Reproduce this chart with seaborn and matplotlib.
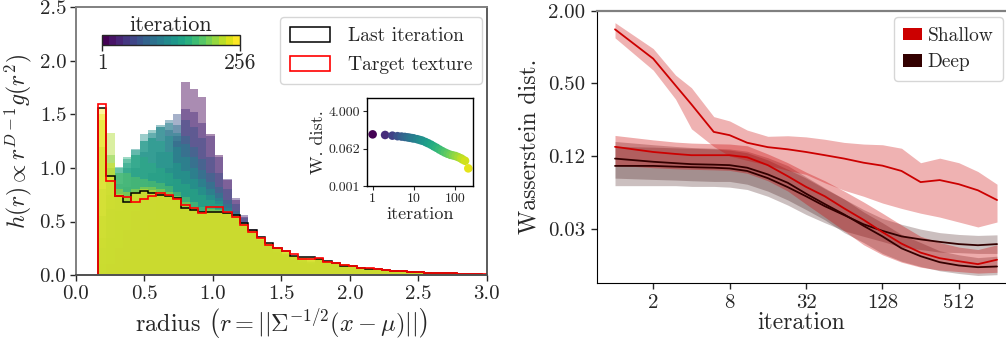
import numpy as np
import pandas as pd
import matplotlib
matplotlib.use("Agg")
import matplotlib.pyplot as plt
import seaborn as sns
from matplotlib.colors import LogNorm
from matplotlib.cm import ScalarMappable
from matplotlib.patches import Patch
from matplotlib.ticker import FixedLocator, FixedFormatter, NullLocator

# ---------------- left panel: radial histograms ----------------
bin_start = 0.16
bin_width = 0.061
n_bins = 47

hist_iterations = [1, 2, 4, 8, 12, 16, 24, 32, 64, 128, 192, 256]

# heights of the first 26 bins for the intermediate iterations
head_it1 = [0.0, 0.02, 0.05, 0.10, 0.17, 0.27, 0.40, 0.58, 0.85, 1.25, 1.80, 1.74, 1.66,
            1.32, 1.12, 0.89, 0.70, 0.544, 0.42, 0.31, 0.25, 0.20, 0.16, 0.13, 0.11, 0.09]
head_it2 = [0.0, 0.03, 0.08, 0.15, 0.24, 0.36, 0.52, 0.72, 1.0, 1.30, 1.55, 1.52, 1.42,
            1.30, 1.10, 0.90, 0.72, 0.56, 0.43, 0.33, 0.26, 0.21, 0.17, 0.14, 0.11, 0.09]
head_it4 = [0.02, 0.10, 0.25, 0.42, 0.60, 0.78, 0.95, 1.15, 1.35, 1.50, 1.45, 1.38, 1.28,
            1.10, 0.95, 0.80, 0.66, 0.53, 0.42, 0.33, 0.27, 0.22, 0.18, 0.15, 0.12, 0.10]
head_it8 = [0.10, 0.35, 0.60, 0.82, 1.0, 1.15, 1.28, 1.38, 1.45, 1.40, 1.30, 1.20, 1.08,
            0.95, 0.82, 0.70, 0.60, 0.50, 0.41, 0.33, 0.27, 0.23, 0.19, 0.16, 0.13, 0.11]
head_it12 = [0.25, 0.62, 0.85, 1.0, 1.12, 1.25, 1.33, 1.40, 1.42, 1.33, 1.22, 1.10, 0.98,
             0.87, 0.77, 0.66, 0.58, 0.49, 0.41, 0.33, 0.28, 0.23, 0.19, 0.16, 0.13, 0.11]
head_it16 = [0.35, 0.75, 0.95, 1.05, 1.18, 1.32, 1.35, 1.38, 1.30, 1.20, 1.10, 1.00, 0.90,
             0.80, 0.72, 0.63, 0.56, 0.48, 0.40, 0.33, 0.28, 0.24, 0.20, 0.17, 0.14, 0.12]
head_it24 = [0.55, 0.88, 1.0, 1.08, 1.17, 1.25, 1.28, 1.25, 1.15, 1.05, 0.97, 0.90, 0.82,
             0.75, 0.69, 0.61, 0.55, 0.47, 0.40, 0.33, 0.28, 0.24, 0.20, 0.17, 0.14, 0.12]
head_it32 = [0.80, 1.0, 1.01, 1.10, 1.12, 1.10, 1.05, 1.00, 0.95, 0.90, 0.85, 0.80, 0.75,
             0.70, 0.66, 0.60, 0.55, 0.47, 0.40, 0.34, 0.29, 0.25, 0.21, 0.18, 0.15, 0.13]
head_it64 = [1.20, 1.12, 0.95, 0.95, 0.92, 0.90, 0.88, 0.86, 0.83, 0.78, 0.73, 0.68, 0.64,
             0.64, 0.62, 0.58, 0.54, 0.47, 0.41, 0.35, 0.29, 0.25, 0.22, 0.18, 0.15, 0.14]
head_it128 = [1.45, 1.33, 0.80, 0.78, 0.80, 0.82, 0.82, 0.80, 0.78, 0.74, 0.68, 0.64, 0.60,
              0.62, 0.61, 0.58, 0.55, 0.47, 0.41, 0.35, 0.29, 0.25, 0.22, 0.18, 0.16, 0.15]
head_it192 = [1.50, 1.05, 0.76, 0.72, 0.78, 0.80, 0.79, 0.77, 0.75, 0.72, 0.65, 0.62, 0.59,
              0.60, 0.60, 0.58, 0.55, 0.48, 0.41, 0.35, 0.29, 0.25, 0.22, 0.18, 0.16, 0.15]
# common tail (bins 26..46)
tail_common = [0.15, 0.13, 0.115, 0.10, 0.09, 0.075, 0.068, 0.06, 0.052, 0.045, 0.038,
               0.034, 0.03, 0.025, 0.022, 0.019, 0.016, 0.013, 0.01, 0.007, 0.005]

last_iteration = [1.555, 0.927, 0.737, 0.684, 0.768, 0.784, 0.768, 0.752, 0.737, 0.715,
                  0.622, 0.606, 0.59, 0.59, 0.59, 0.575, 0.56, 0.482, 0.42, 0.351, 0.295,
                  0.249, 0.227, 0.177, 0.171, 0.165, 0.146, 0.13, 0.109, 0.087, 0.087, 0.07,
                  0.06, 0.055, 0.047, 0.042, 0.034, 0.03, 0.028, 0.024, 0.02, 0.019, 0.015,
                  0.013, 0.01, 0.007, 0.005]
target_texture = [1.60, 0.88, 0.737, 0.731, 0.684, 0.706, 0.737, 0.768, 0.752, 0.706,
                  0.653, 0.622, 0.575, 0.637, 0.637, 0.59, 0.544, 0.466, 0.404, 0.342, 0.28,
                  0.249, 0.227, 0.196, 0.146, 0.146, 0.162, 0.118, 0.109, 0.093, 0.087, 0.068,
                  0.062, 0.053, 0.047, 0.040, 0.034, 0.031, 0.028, 0.022, 0.022, 0.019, 0.016,
                  0.012, 0.009, 0.006, 0.006]

# inset: Wasserstein distance per iteration
inset_iterations = [1, 2, 3, 4, 5, 6, 7, 8, 9, 10, 12, 14, 16, 19, 22, 26, 30, 35, 41, 48,
                    56, 65, 76, 88, 102, 118, 137, 150, 172, 206]
inset_wdist = [0.30, 0.28, 0.26, 0.245, 0.235, 0.225, 0.215, 0.205, 0.197, 0.19, 0.175,
               0.16, 0.148, 0.128, 0.112, 0.095, 0.08, 0.068, 0.056, 0.047, 0.040, 0.035,
               0.031, 0.029, 0.027, 0.024, 0.021, 0.0185, 0.016, 0.0069]
inset_yticks = [2.0 ** -10, 2.0 ** -4, 2.0 ** 2]
inset_yticklabels = ["0.001", "0.062", "4.000"]
inset_xticks = [1, 10, 100]
inset_xticklabels = ["1", "10", "100"]

# ---------------- right panel: W. distance vs iteration ----------------
iterations = [1, 2, 3, 4, 6, 8, 11, 16, 23, 32, 45, 64, 91, 128, 181, 256, 362, 512, 724, 1024]

shallow_a = [1.40, 0.80, 0.48, 0.335, 0.198, 0.186, 0.161, 0.148, 0.142, 0.135, 0.127,
             0.119, 0.110, 0.104, 0.094, 0.076, 0.079, 0.073, 0.065, 0.054]
shallow_a_lo = [1.19, 0.643, 0.37, 0.21, 0.15, 0.125, 0.115, 0.105, 0.095, 0.088, 0.075,
                0.065, 0.058, 0.051, 0.046, 0.042, 0.039, 0.0355, 0.0323, 0.0355]
shallow_a_hi = [1.59, 0.97, 0.585, 0.46, 0.265, 0.244, 0.205, 0.182, 0.184, 0.180, 0.172,
                0.162, 0.157, 0.155, 0.145, 0.11, 0.12, 0.11, 0.093, 0.073]

shallow_b = [0.149, 0.135, 0.13, 0.127, 0.127, 0.127, 0.122, 0.105, 0.085, 0.0694, 0.058,
             0.046, 0.037, 0.0293, 0.0235, 0.0198, 0.0178, 0.0168, 0.0159, 0.0173]
shallow_b_lo = [0.105, 0.100, 0.098, 0.097, 0.096, 0.095, 0.090, 0.078, 0.064, 0.050, 0.039,
                0.030, 0.023, 0.019, 0.0165, 0.0150, 0.0142, 0.0138, 0.0134, 0.0136]
shallow_b_hi = [0.185, 0.170, 0.163, 0.160, 0.158, 0.157, 0.152, 0.130, 0.110, 0.092, 0.078,
                0.064, 0.052, 0.042, 0.0335, 0.027, 0.024, 0.022, 0.021, 0.023]

deep_a = [0.1035, 0.1035, 0.102, 0.101, 0.100, 0.0986, 0.094, 0.082, 0.069, 0.058, 0.048,
          0.0405, 0.034, 0.030, 0.027, 0.0255, 0.0243, 0.0233, 0.0228, 0.0233]
deep_a_lo = [0.071, 0.071, 0.071, 0.070, 0.070, 0.069, 0.066, 0.058, 0.049, 0.041, 0.035,
             0.030, 0.027, 0.0245, 0.022, 0.021, 0.020, 0.0198, 0.0195, 0.0195]
deep_a_hi = [0.150, 0.148, 0.146, 0.145, 0.143, 0.140, 0.133, 0.116, 0.097, 0.082, 0.067,
             0.055, 0.045, 0.038, 0.034, 0.031, 0.029, 0.028, 0.0275, 0.0278]

deep_b = [0.119, 0.112, 0.109, 0.107, 0.106, 0.105, 0.100, 0.088, 0.075, 0.061, 0.050,
          0.041, 0.033, 0.027, 0.0215, 0.0185, 0.0165, 0.0155, 0.015, 0.0152]
deep_b_lo = [0.082, 0.080, 0.079, 0.078, 0.077, 0.077, 0.073, 0.064, 0.054, 0.045, 0.037,
             0.029, 0.024, 0.0195, 0.0168, 0.0152, 0.0140, 0.0133, 0.0128, 0.0130]
deep_b_hi = [0.165, 0.155, 0.150, 0.147, 0.145, 0.143, 0.137, 0.121, 0.104, 0.084, 0.068,
             0.055, 0.043, 0.035, 0.028, 0.024, 0.0205, 0.019, 0.018, 0.0185]

w_yticks = [2.0, 0.5, 0.125, 0.03125]
w_yticklabels = ["2.00", "0.50", "0.12", "0.03"]
w_xticks = [2, 8, 32, 128, 512]
w_xticklabels = ["2", "8", "32", "128", "512"]

shallow_color = "#cc0000"
deep_color = "#330000"

# ---------------- style ----------------
sns.set_style("ticks")
plt.rcParams.update({
    "font.family": "cmr10",
    "mathtext.fontset": "cm",
    "axes.formatter.use_mathtext": True,
    "axes.unicode_minus": False,
    "xtick.direction": "out",
    "ytick.direction": "out",
})

fig = plt.figure(figsize=(10.06, 3.43), dpi=100)

# ---- histograms
ax_h = fig.add_axes([0.0755, 0.198, 0.4085, 0.781])
edges = list(bin_start + bin_width * np.arange(n_bins + 1))
centers = [0.5 * (a + b) for a, b in zip(edges[:-1], edges[1:])]
cmap = plt.get_cmap("viridis")
norm = LogNorm(1, 256)

heads = [head_it1, head_it2, head_it4, head_it8, head_it12, head_it16, head_it24,
         head_it32, head_it64, head_it128, head_it192]
layers = [h + tail_common for h in heads] + [last_iteration]
for it, heights in zip(hist_iterations, layers):
    df = pd.DataFrame({"r": centers, "h": heights})
    sns.histplot(data=df, x="r", weights="h", bins=edges, color=cmap(norm(it)),
                 alpha=0.45, linewidth=0, ax=ax_h)

# outlines drawn as closed steps down to zero, like a step histogram
ax_h.stairs(last_iteration, edges, baseline=0, color="black", linewidth=1.1)
ax_h.stairs(target_texture, edges, baseline=0, color="red", linewidth=1.2)

ax_h.set_xlim(0, 3.0)
ax_h.set_ylim(0, 2.5)
ax_h.set_xticks([0.0, 0.5, 1.0, 1.5, 2.0, 2.5, 3.0])
ax_h.set_yticks([0.0, 0.5, 1.0, 1.5, 2.0, 2.5])
ax_h.xaxis.set_major_formatter(FixedFormatter(["0.0", "0.5", "1.0", "1.5", "2.0", "2.5", "3.0"]))
ax_h.yaxis.set_major_formatter(FixedFormatter(["0.0", "0.5", "1.0", "1.5", "2.0", "2.5"]))
ax_h.tick_params(labelsize=15, length=4, width=1, pad=3)
ax_h.set_xlabel(r"radius $\left(r = ||\mathbf{\Sigma}^{-1/2}(x - \mathbf{\mu})||\right)$",
                fontsize=17.5, labelpad=2)
ax_h.set_ylabel(r"$h(r) \propto r^{D-1} g(r^2)$", fontsize=17, labelpad=4)
for side in ["left", "top"]:
    ax_h.spines[side].set_color("#808080")
    ax_h.spines[side].set_linewidth(1.4)
ax_h.spines["right"].set_color("#404040")
ax_h.spines["right"].set_linewidth(1.2)
ax_h.spines["bottom"].set_color("#505050")
ax_h.spines["bottom"].set_linewidth(1.4)

leg_handles = [Patch(facecolor="none", edgecolor="black", linewidth=1.1, label="Last iteration"),
               Patch(facecolor="none", edgecolor="red", linewidth=1.2, label="Target texture")]
ax_h.legend(handles=leg_handles, loc="upper right", bbox_to_anchor=(0.988, 0.962),
            borderaxespad=0, fontsize=14, handlelength=2.1, handleheight=0.8,
            handletextpad=0.9, labelspacing=0.55, borderpad=0.5)

# ---- colorbar
cax = fig.add_axes([0.1014, 0.8688, 0.1372, 0.0292])
sm = ScalarMappable(norm=norm, cmap=plt.get_cmap("viridis", 20))
cbar = fig.colorbar(sm, cax=cax, orientation="horizontal")
cbar.set_ticks([1, 256])
cbar.set_ticklabels(["1", "256"])
cax.xaxis.set_minor_locator(NullLocator())
cax.tick_params(labelsize=15.5, length=4, width=1, pad=2)
cbar.outline.set_linewidth(1)
cax.set_title("iteration", fontsize=16, pad=1)

# ---- inset
ax_in = fig.add_axes([0.3648, 0.4577, 0.1054, 0.2566])
ax_in.set_xscale("log")
ax_in.set_yscale("log", base=2)
df_in = pd.DataFrame({"it": inset_iterations, "w": inset_wdist})
sns.scatterplot(data=df_in, x="it", y="w", hue="it", palette="viridis",
                hue_norm=norm, s=38, linewidth=0, legend=False, ax=ax_in)
ax_in.set_xlim(0.73, 268)
ax_in.set_ylim(2.0 ** -10, 2.0 ** 4.08)
ax_in.xaxis.set_major_locator(FixedLocator(inset_xticks))
ax_in.xaxis.set_major_formatter(FixedFormatter(inset_xticklabels))
ax_in.yaxis.set_major_locator(FixedLocator(inset_yticks))
ax_in.yaxis.set_major_formatter(FixedFormatter(inset_yticklabels))
ax_in.xaxis.set_minor_locator(NullLocator())
ax_in.yaxis.set_minor_locator(NullLocator())
ax_in.tick_params(labelsize=10, length=3, width=0.8, pad=2)
ax_in.set_xlabel("iteration", fontsize=13, labelpad=1)
ax_in.set_ylabel("W. dist.", fontsize=13, labelpad=2)
for sp in ax_in.spines.values():
    sp.set_color("black")
    sp.set_linewidth(1)

# ---- right panel
ax_w = fig.add_axes([0.5931, 0.175, 0.4069, 0.794])
ax_w.set_xscale("log", base=2)
ax_w.set_yscale("log", base=2)


def band_frame(mid, lo, hi):
    return pd.DataFrame({
        "iteration": iterations * 3,
        "wdist": list(lo) + list(mid) + list(hi),
    })


series = [
    (deep_a, deep_a_lo, deep_a_hi, deep_color, 0.25),
    (deep_b, deep_b_lo, deep_b_hi, deep_color, 0.25),
    (shallow_a, shallow_a_lo, shallow_a_hi, shallow_color, 0.3),
    (shallow_b, shallow_b_lo, shallow_b_hi, shallow_color, 0.33),
]
for mid, lo, hi, col, a in series:
    sns.lineplot(data=band_frame(mid, lo, hi), x="iteration", y="wdist",
                 estimator="median", errorbar=lambda v: (v.min(), v.max()),
                 color=col, linewidth=1.3, err_kws={"alpha": a, "linewidth": 0},
                 ax=ax_w)

ax_w.set_xlim(2.0 ** -0.48, 2.0 ** 10.235)
ax_w.set_ylim(0.0111, 2.0)
ax_w.xaxis.set_major_locator(FixedLocator(w_xticks))
ax_w.xaxis.set_major_formatter(FixedFormatter(w_xticklabels))
ax_w.yaxis.set_major_locator(FixedLocator(w_yticks))
ax_w.yaxis.set_major_formatter(FixedFormatter(w_yticklabels))
ax_w.xaxis.set_minor_locator(NullLocator())
ax_w.yaxis.set_minor_locator(NullLocator())
ax_w.tick_params(labelsize=15, length=4, width=1, pad=4)
ax_w.set_xlabel("iteration", fontsize=17, labelpad=0)
ax_w.set_ylabel("Wasserstein dist.", fontsize=17, labelpad=6)
ax_w.spines["right"].set_visible(False)
ax_w.spines["top"].set_color("#808080")
ax_w.spines["top"].set_linewidth(1.6)
ax_w.spines["left"].set_color("black")
ax_w.spines["bottom"].set_color("black")

w_handles = [Patch(facecolor=shallow_color, edgecolor="none", label="Shallow"),
             Patch(facecolor=deep_color, edgecolor="none", label="Deep")]
ax_w.legend(handles=w_handles, loc="upper right", bbox_to_anchor=(0.993, 0.977),
            borderaxespad=0, fontsize=14, handlelength=0.95, handleheight=0.6,
            handletextpad=0.3, labelspacing=0.45, borderpad=0.5)

fig.savefig("out.png", dpi=100)
